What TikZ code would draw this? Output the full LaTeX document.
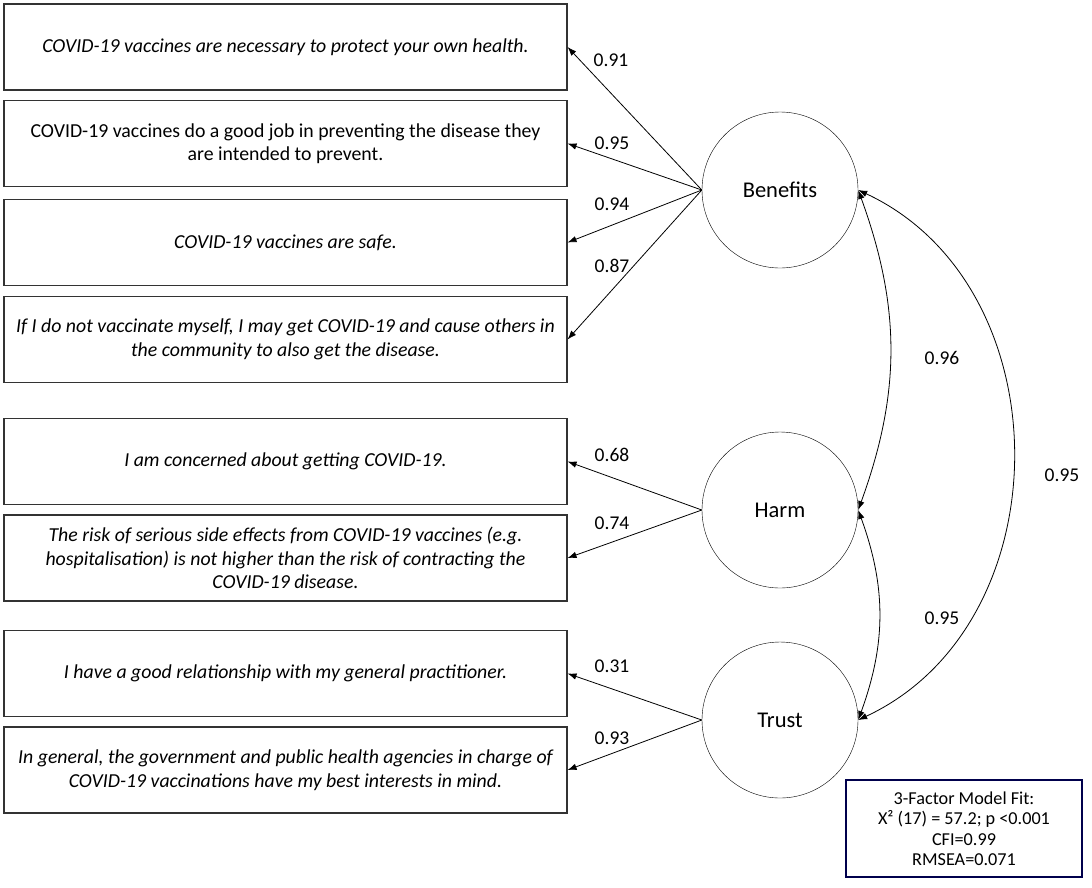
\documentclass[tikz,border=0pt]{standalone}
\usepackage{fontspec}
\setmainfont{Carlito}
\usetikzlibrary{arrows.meta}
\begin{document}
\begin{tikzpicture}[x=1pt,y=1pt,
    item/.style={draw=black!80,line width=1.1pt,minimum width=563pt,minimum height=86pt,
      align=center,font=\fontsize{19.8}{23.5}\selectfont\itshape,inner sep=0pt},
    factor/.style={draw,circle,minimum size=156pt,inner sep=0pt,font=\fontsize{22.5}{26}\selectfont},
    load/.style={-{Latex[length=9pt,width=6.5pt]},line width=0.8pt},
    corr/.style={{Latex[length=9pt,width=6.5pt]}-{Latex[length=9pt,width=6.5pt]},line width=0.8pt},
    num/.style={font=\fontsize{19.5}{22}\selectfont}]
    \useasboundingbox (0,0) rectangle (1092,-887);
    % items
    \node[item] (q1) at (285.5,-47) {COVID-19 vaccines are necessary to protect your own health.};
    \node[item,font=\fontsize{19.8}{23.5}\selectfont] (q2) at (285.5,-143.5) {COVID-19 vaccines do a good job in preventing the disease they\\are intended to prevent.};
    \node[item] (q3) at (285.5,-242.5) {COVID-19 vaccines are safe.};
    \node[item] (q4) at (285.5,-339.5) {If I do not vaccinate myself, I may get COVID-19 and cause others in\\the community to also get the disease.};
    \node[item] (q5) at (285.5,-461.5) {I am concerned about getting COVID-19.};
    \node[item] (q6) at (285.5,-558) {The risk of serious side effects from COVID-19 vaccines (e.g.\\hospitalisation) is not higher than the risk of contracting the\\COVID-19 disease.};
    \node[item] (q7) at (285.5,-673.5) {I have a good relationship with my general practitioner.};
    \node[item] (q8) at (285.5,-770) {In general, the government and public health agencies in charge of\\COVID-19 vaccinations have my best interests in mind.};
    % factors
    \node[factor] (ben) at (780,-190) {Benefits};
    \node[factor] (harm) at (780,-510) {Harm};
    \node[factor] (trust) at (780,-720) {Trust};
    % loadings
    \draw[load] (ben.west) -- (q1.east);
    \draw[load] (ben.west) -- (q2.east);
    \draw[load] (ben.west) -- (q3.east);
    \draw[load] (ben.west) -- (q4.east);
    \draw[load] (harm.west) -- (q5.east);
    \draw[load] (harm.west) -- (q6.east);
    \draw[load] (trust.west) -- (q7.east);
    \draw[load] (trust.west) -- (q8.east);
    \node[num] (l1) at (611,-60) {0.91};
    \node[num] (l2) at (612,-143) {0.95};
    \node[num] (l3) at (612,-204) {0.94};
    \node[num] (l4) at (612,-266) {0.87};
    \node[num] (l5) at (612,-455) {0.68};
    \node[num] (l6) at (612,-523) {0.74};
    \node[num] (l7) at (612,-666) {0.31};
    \node[num] (l8) at (612,-738) {0.93};
    % correlations
    \draw[corr] (ben.east) to[out=-70,in=70] (harm.east);
    \draw[corr] (harm.east) to[out=-70,in=70] (trust.east);
    \draw[corr] (ben.east) to[out=-25,in=25,looseness=1.1] (trust.east);
    \node[num] (c1) at (942,-358) {0.96};
    \node[num] (c2) at (942,-618) {0.95};
    \node[num] (c3) at (1062,-475) {0.95};
    % model fit
    \node[draw=blue!30!black,line width=1.1pt,minimum width=236pt,minimum height=97pt,align=center,
      inner sep=0pt,font=\fontsize{18.2}{20.5}\selectfont] (fit) at (964,-828.5)
      {3-Factor Model Fit:\\X² (17) = 57.2; p <0.001\\CFI=0.99\\RMSEA=0.071};
\end{tikzpicture}
\end{document}
